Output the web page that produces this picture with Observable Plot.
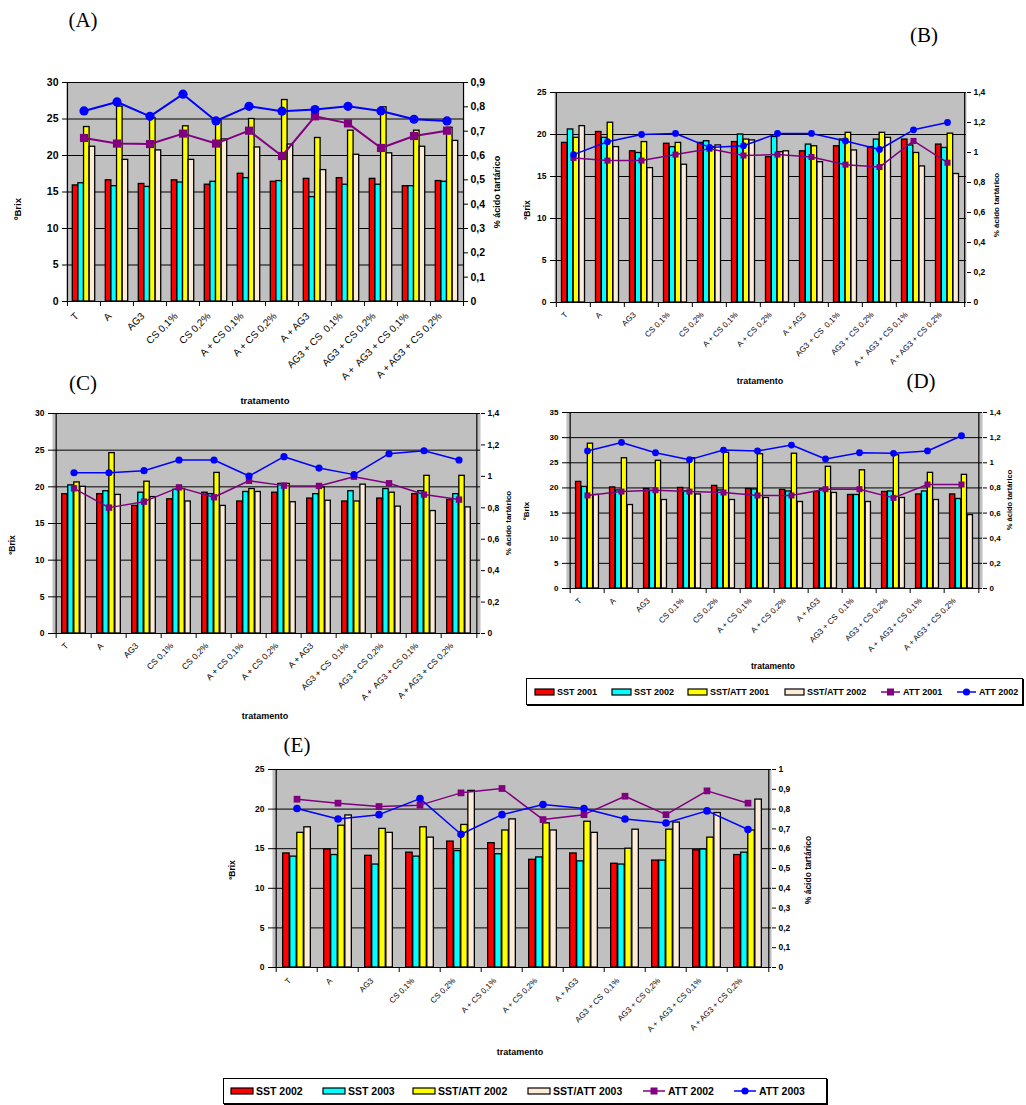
<!DOCTYPE html>
<html><head><meta charset="utf-8">
<script src="https://cdn.jsdelivr.net/npm/d3@7"></script>
<script src="https://cdn.jsdelivr.net/npm/@observablehq/plot@0.6"></script>
<style>
body{margin:0;background:#fff;width:1026px;height:1105px;position:relative;overflow:hidden;font-family:"Liberation Sans",Arial,sans-serif;}
.abs{position:absolute;white-space:nowrap;line-height:1;}
.pl{font-family:"Liberation Serif","Times New Roman",serif;font-size:21px;transform:translate(-50%,-50%);}
.b{font-weight:bold;}
.rot{transform:translate(-50%,-50%) rotate(-90deg);}
.ctr{transform:translate(-50%,-50%);}
.leg{position:absolute;border:1px solid #000;box-shadow:1px 1px 0 #000;background:#fff;}
</style></head><body>
<script>
const categories = ["T","A","AG3","CS 0,1%","CS 0,2%","A + CS 0,1%","A + CS 0,2%","A + AG3","AG3 + CS  0,1%","AG3 + CS 0,2%","A +  AG3 + CS 0,1%","A + AG3 + CS 0,2%"];

// Panel A
const A_sst1 = [15.9,16.6,16.1,16.6,16.0,17.5,16.4,16.8,16.9,16.8,15.8,16.5];
const A_sst2 = [16.2,15.8,15.7,16.3,16.4,16.9,16.5,14.3,16.0,16.0,15.8,16.4];
const A_rat1 = [23.9,26.7,25.1,24.0,24.8,25.0,27.6,22.4,23.4,26.6,23.4,23.8];
const A_rat2 = [21.2,19.4,20.7,19.4,22.2,21.1,21.5,18.0,20.1,20.3,21.2,22.0];
const A_att1 = [0.672,0.649,0.647,0.69,0.649,0.702,0.598,0.761,0.732,0.631,0.68,0.702];
const A_att2 = [0.783,0.82,0.761,0.852,0.742,0.802,0.782,0.789,0.802,0.783,0.749,0.742];
// Panel B
const B_sst1 = [19.0,20.3,18.0,18.9,19.0,19.1,17.3,18.0,18.6,18.5,19.4,18.8];
const B_sst2 = [20.6,19.6,17.8,18.5,19.2,20.0,19.7,18.8,19.4,19.4,18.7,18.4];
const B_rat1 = [19.6,21.4,19.1,19.0,18.5,19.4,17.9,18.6,20.2,20.2,17.8,20.1];
const B_rat2 = [21.0,18.5,16.0,16.4,18.7,19.3,18.0,16.7,18.1,19.6,16.2,15.3];
const B_att1 = [0.964,0.946,0.946,0.986,1.025,0.98,0.986,0.97,0.919,0.903,1.077,0.932];
const B_att2 = [0.986,1.072,1.12,1.127,1.034,1.045,1.127,1.127,1.077,1.02,1.151,1.2];
// Panel C
const C_sst1 = [19.0,19.0,17.4,18.3,19.2,18.0,19.2,18.4,18.0,18.4,19.0,18.2];
const C_sst2 = [20.2,19.4,19.2,19.6,19.0,19.3,20.4,19.0,19.4,19.7,19.4,19.0];
const C_rat1 = [20.6,24.6,20.7,19.7,21.9,19.7,20.4,19.9,18.0,19.2,21.5,21.5];
const C_rat2 = [20.0,18.9,18.6,18.0,17.4,19.3,17.9,18.1,20.3,17.3,16.7,17.2];
const C_att1 = [0.924,0.801,0.839,0.93,0.867,0.972,0.941,0.939,0.998,0.956,0.884,0.852];
const C_att2 = [1.023,1.023,1.036,1.104,1.104,1.002,1.125,1.053,1.011,1.144,1.163,1.104];
// Panel D
const D_sst1 = [21.2,20.1,19.8,20.0,20.4,19.8,19.6,19.2,18.6,19.2,18.7,18.7];
const D_sst2 = [20.2,19.5,19.4,19.3,19.5,19.7,19.3,19.7,18.6,19.3,19.3,17.8];
const D_rat1 = [28.8,25.9,25.4,25.9,27.0,26.7,26.8,24.2,23.5,26.5,23.0,22.6];
const D_rat2 = [18.6,16.6,17.6,18.7,17.6,18.0,17.2,19.0,17.2,18.0,17.6,14.6];
const D_att1 = [0.74,0.771,0.782,0.771,0.763,0.74,0.74,0.79,0.79,0.721,0.827,0.827];
const D_att2 = [1.094,1.162,1.08,1.025,1.101,1.094,1.141,1.03,1.08,1.075,1.094,1.215];
// Panel E
const E_sst2 = [14.4,14.9,14.1,14.5,15.9,15.7,13.6,14.4,13.1,13.5,14.8,14.2];
const E_sst3 = [14.0,14.2,13.0,14.0,14.7,14.3,13.9,13.4,13.0,13.5,14.9,14.5];
const E_rat2 = [17.0,17.9,17.5,17.7,18.0,17.3,18.2,18.4,15.0,17.4,16.4,17.3];
const E_rat3 = [17.7,19.2,17.0,16.4,22.3,18.7,17.3,17.0,17.4,18.3,19.5,21.2];
const E_att2 = [0.85,0.83,0.813,0.82,0.882,0.904,0.747,0.772,0.865,0.772,0.892,0.83];
const E_att3 = [0.803,0.75,0.772,0.853,0.673,0.772,0.823,0.803,0.75,0.73,0.791,0.697];

// Axis ticks
const ticks30 = [0,5,10,15,20,25,30];
const ticks25 = [0,5,10,15,20,25];
const ticks35 = [0,5,10,15,20,25,30,35];
const rTicks09 = [0,0.1,0.2,0.3,0.4,0.5,0.6,0.7,0.8,0.9];
const rTicks14 = [0,0.2,0.4,0.6,0.8,1,1.2,1.4];
const rTicks10 = [0,0.1,0.2,0.3,0.4,0.5,0.6,0.7,0.8,0.9,1];

const legendD = ["SST 2001","SST 2002","SST/ATT 2001","SST/ATT 2002","ATT 2001","ATT 2002"];
const legendE = ["SST 2002","SST 2003","SST/ATT 2002","SST/ATT 2003","ATT 2002","ATT 2003"];

const barColors = ["#ff0000","#00ffff","#ffff00","#fcebd6"];
const lineColors = ["#800080","#0000ff"];
const fmt = v => String(Math.round(v*100)/100).replace(".", ",");

function addText(txt, x, y, cls, size){
  const d = document.createElement("div");
  d.className = "abs " + cls;
  d.style.left = x + "px"; d.style.top = y + "px";
  if (size) d.style.fontSize = size + "px";
  d.textContent = txt;
  document.body.appendChild(d);
}

function drawPanel(cfg){
  const mL=50, mR=50, mT=14, mB=125;
  const pw = cfg.right - cfg.left, ph = cfg.bottom - cfg.top;
  const n = categories.length;
  const bw = pw / n;
  const groupW = bw*0.68, barW = groupW/4, g0 = (bw-groupW)/2;
  const factor = cfg.leftMax / cfg.rightMax;
  const rows = arr => categories.map((c,i)=>({cat:c, v:arr[i]}));
  const tickLen = cfg.leftMax*5/ph;
  const marks = [
    Plot.frame({fill:"#c0c0c0", stroke:null}),
    Plot.ruleY(cfg.leftTicks, {stroke:"#000", strokeWidth:1})
  ];
  cfg.bars.forEach((arr,i)=>{
    marks.push(Plot.barY(rows(arr), {x:"cat", y:"v", fill:barColors[i], stroke:"#000", strokeWidth:1.3,
      insetLeft: g0 + i*barW, insetRight: bw - g0 - (i+1)*barW}));
  });
  marks.push(
    Plot.ruleX([categories[0]], {x:d=>d, dx:-bw/2, stroke:"#000", strokeWidth:1.2}),
    Plot.ruleX([categories[n-1]], {x:d=>d, dx:bw/2, stroke:"#000", strokeWidth:1.2}),
    Plot.ruleX(categories, {x:d=>d, dx:-bw/2, y1:0, y2:-tickLen, stroke:"#000"}),
    Plot.ruleX([categories[n-1]], {x:d=>d, dx:bw/2, y1:0, y2:-tickLen, stroke:"#000"}),
    Plot.ruleY([0], {stroke:"#000", strokeWidth:1.2})
  );
  cfg.lines.forEach((arr,i)=>{
    marks.push(Plot.line(rows(arr), {x:"cat", y:d=>d.v*factor, stroke:lineColors[i], strokeWidth:cfg.lw}));
    marks.push(Plot.dot(rows(arr), {x:"cat", y:d=>d.v*factor, fill:lineColors[i], stroke:null, r:cfg.r, symbol: i===0 ? "square" : "circle"}));
  });
  marks.push(
    Plot.axisY(cfg.leftTicks, {anchor:"left", tickSize:4, tickPadding:4, tickFormat:fmt, fontWeight:"bold", fontSize:cfg.yfs, label:null}),
    Plot.axisY(cfg.rightTicks.map(v=>v*factor), {anchor:"right", tickSize:4, tickPadding:3, tickFormat:d=>fmt(d/factor), fontWeight:"bold", fontSize:cfg.yfs, label:null}),
    Plot.axisX({anchor:"bottom", tickSize:0, tickPadding:cfg.xpad, tickRotate:-45, fontSize:cfg.xfs, dx:cfg.xdx, label:null})
  );
  const chart = Plot.plot({
    width: pw+mL+mR, height: ph+mT+mB,
    marginLeft:mL, marginRight:mR, marginTop:mT, marginBottom:mB,
    x:{type:"band", domain:categories, padding:0, axis:null},
    y:{domain:[0,cfg.leftMax], axis:null},
    style:{fontFamily:"Liberation Sans, Arial, sans-serif", background:"transparent", overflow:"visible", color:"#000"},
    marks
  });
  chart.style.maxWidth = "none";
  const wrap = document.createElement("div");
  wrap.style.position = "absolute";
  wrap.style.left = (cfg.left - mL) + "px";
  wrap.style.top = (cfg.top - mT) + "px";
  wrap.style.width = (pw+mL+mR) + "px";
  wrap.appendChild(chart);
  document.body.appendChild(wrap);
}

drawPanel({left:66, right:463, top:82, bottom:301, leftMax:30, leftTicks:ticks30, rightMax:0.9, rightTicks:rTicks09,
  bars:[A_sst1,A_sst2,A_rat1,A_rat2], lines:[A_att1,A_att2], yfs:10.5, xfs:10, xpad:13, xdx:-7, r:4.6, lw:2});
drawPanel({left:554, right:966, top:92, bottom:302, leftMax:25, leftTicks:ticks25, rightMax:1.4, rightTicks:rTicks14,
  bars:[B_sst1,B_sst2,B_rat1,B_rat2], lines:[B_att1,B_att2], yfs:8.5, xfs:8, xpad:11, xdx:-7, r:3.4, lw:1.5});
drawPanel({left:52, right:480, top:413, bottom:633, leftMax:30, leftTicks:ticks30, rightMax:1.4, rightTicks:rTicks14,
  bars:[C_sst1,C_sst2,C_rat1,C_rat2], lines:[C_att1,C_att2], yfs:8.5, xfs:8.5, xpad:11, xdx:-7, r:3.6, lw:1.5});
drawPanel({left:566, right:982, top:412, bottom:588, leftMax:35, leftTicks:ticks35, rightMax:1.4, rightTicks:rTicks14,
  bars:[D_sst1,D_sst2,D_rat1,D_rat2], lines:[D_att1,D_att2], yfs:8, xfs:8, xpad:11, xdx:-7, r:3.4, lw:1.5});
drawPanel({left:272, right:771, top:769, bottom:967, leftMax:25, leftTicks:ticks25, rightMax:1, rightTicks:rTicks10,
  bars:[E_sst2,E_sst3,E_rat2,E_rat3], lines:[E_att2,E_att3], yfs:8.5, xfs:8, xpad:12, xdx:-7, r:3.8, lw:1.5});

// panel labels and axis titles
addText("(A)", 83, 20, "pl");
addText("(B)", 924, 35, "pl");
addText("(C)", 83, 383, "pl");
addText("(D)", 921, 381, "pl");
addText("(E)", 297, 745, "pl");

addText("ºBrix", 18, 209, "b rot", 9.5);
addText("% ácido tartárico", 497, 192, "b rot", 9);
addText("tratamento", 265, 401, "b ctr", 9.5);

addText("ºBrix", 527, 210, "b rot", 8.5);
addText("% ácido tartárico", 997, 205, "b rot", 8);
addText("tratamento", 760, 381, "b ctr", 9);

addText("ºBrix", 12, 545, "b rot", 8.5);
addText("% ácido tartárico", 509, 523, "b rot", 8);
addText("tratamento", 265, 716, "b ctr", 9);

addText("ºBrix", 527, 511, "b rot", 8);
addText("% ácido tartárico", 1010, 500, "b rot", 7.5);
addText("tratamento", 773, 666, "b ctr", 8.5);

addText("ºBrix", 232, 870, "b rot", 8.5);
addText("% ácido tartárico", 808, 870, "b rot", 8.5);
addText("tratamento", 520, 1052, "b ctr", 9);

function legend(names, box, xs, swW, fs){
  const lg = document.createElement("div");
  lg.className = "leg";
  lg.style.left = box.x + "px"; lg.style.top = box.y + "px";
  lg.style.width = box.w + "px"; lg.style.height = box.h + "px";
  document.body.appendChild(lg);
  names.forEach((nm,i)=>{
    const sx = xs[i] - box.x;
    const cy = box.h/2;
    const sw = document.createElementNS("http://www.w3.org/2000/svg","svg");
    sw.setAttribute("width", swW+4); sw.setAttribute("height", 12);
    sw.style.position = "absolute"; sw.style.left = (sx-1)+"px"; sw.style.top = (cy-6)+"px";
    if (i < 4) {
      sw.innerHTML = `<rect x="1" y="3" width="${swW}" height="6" fill="${barColors[i]}" stroke="#000" stroke-width="1.2"/>`;
    } else {
      const c = lineColors[i-4];
      const mid = 1 + swW/2;
      sw.innerHTML = `<line x1="1" x2="${swW+1}" y1="6" y2="6" stroke="${c}" stroke-width="1.5"/>` +
        (i===4 ? `<rect x="${mid-3.5}" y="2.5" width="7" height="7" fill="${c}"/>` : `<circle cx="${mid}" cy="6" r="3.6" fill="${c}"/>`);
    }
    lg.appendChild(sw);
    const t = document.createElement("div");
    t.className = "abs b";
    t.style.left = (sx + swW + 3) + "px";
    t.style.top = (cy) + "px";
    t.style.transform = "translateY(-50%)";
    t.style.fontSize = fs + "px";
    t.textContent = nm;
    lg.appendChild(t);
  });
}
legend(legendD, {x:526, y:678, w:495, h:25}, [534,611,687,784,880,956], 19, 9);
legend(legendE, {x:223, y:1078, w:602, h:24}, [230,322,412,527,642,733], 22, 10.5);
</script>
</body></html>
